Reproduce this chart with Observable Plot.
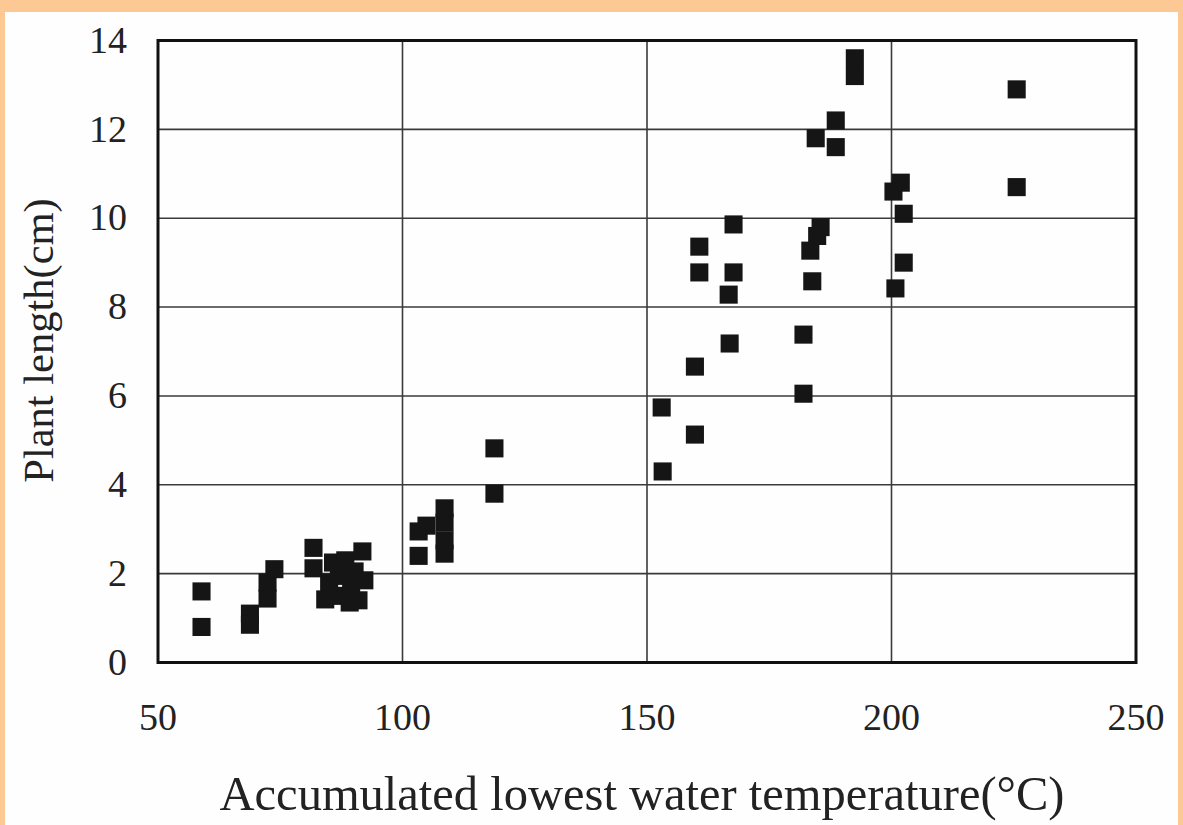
<!DOCTYPE html>
<html>
<head>
<meta charset="utf-8">
<script src="https://cdn.jsdelivr.net/npm/d3@7"></script>
<script src="https://cdn.jsdelivr.net/npm/@observablehq/plot@0.6"></script>
<style>
  html, body { margin: 0; padding: 0; background: #ffffff; }
  #wrap {
    width: 1173px; height: 813px;
    border-top: 12px solid #fcc894;
    border-left: 5px solid #fcc894;
    border-right: 5px solid #fcc894;
    background: #fefefe;
    overflow: hidden;
  }
  svg { display: block; }
</style>
</head>
<body>
<div id="wrap"></div>
<script>
// Accumulated lowest water temperature (°C)
const temperature = [
  58.9, 58.9,
  68.8, 68.8,
  72.4, 72.4, 73.8,
  81.8, 81.8, 84.2, 85.0, 85.8, 87.0, 87.5, 88.3, 89.2, 89.5, 90.2, 91.0, 91.8, 92.2,
  103.3, 103.3, 104.9, 108.6, 108.6, 108.6, 108.6,
  118.8, 118.8,
  153.0, 153.2, 159.8, 159.8, 160.7, 160.7, 167.7, 167.7, 166.7, 166.9,
  182.0, 182.0, 183.4, 183.8, 184.8, 185.5, 184.5, 188.6, 188.6, 192.5, 192.5,
  200.4, 200.8, 201.9, 202.5, 202.5,
  225.6, 225.6
];
// Plant length (cm)
const plantLength = [
  1.6, 0.8,
  1.1, 0.85,
  1.44, 1.8, 2.1,
  2.58, 2.12, 1.42, 1.8, 2.25, 1.95, 1.5, 2.3, 1.35, 1.7, 2.05, 1.4, 2.5, 1.85,
  2.4, 2.95, 3.08, 2.45, 2.75, 3.15, 3.47,
  4.82, 3.8,
  5.74, 4.3, 6.66, 5.13, 9.36, 8.78, 9.86, 8.78, 8.28, 7.18,
  7.38, 6.05, 9.27, 8.58, 9.6, 9.8, 11.8, 12.2, 11.6, 13.6, 13.2,
  10.6, 8.42, 10.8, 10.1, 9.0,
  12.9, 10.7
];
const xTicks = [50, 100, 150, 200, 250];
const yTicks = [0, 2, 4, 6, 8, 10, 12, 14];
const xLabel = "Accumulated lowest water temperature(°C)";
const yLabel = "Plant length(cm)";

const data = temperature.map((t, i) => ({t, l: plantLength[i]}));

const chart = Plot.plot({
  width: 1173,
  height: 813,
  marginLeft: 152.5,
  marginRight: 42.5,
  marginTop: 28,
  marginBottom: 163,
  style: {fontFamily: "'Liberation Serif', 'DejaVu Serif', serif", background: "transparent", color: "#222"},
  x: {domain: [50, 250], ticks: xTicks},
  y: {domain: [0, 14], ticks: yTicks},
  marks: [
    Plot.gridX(xTicks.slice(1, -1), {stroke: "#3a3a3a", strokeOpacity: 1, strokeWidth: 1.6}),
    Plot.gridY(yTicks.slice(1, -1), {stroke: "#3a3a3a", strokeOpacity: 1, strokeWidth: 1.6}),
    Plot.axisX(xTicks, {tickSize: 0, tickPadding: 41, fontSize: 38, label: null, fill: "#222"}),
    Plot.axisY(yTicks, {tickSize: 0, tickPadding: 31, fontSize: 38, label: null, fill: "#222"}),
    Plot.dot(data, {x: "t", y: "l", symbol: "square", r: 10.2, fill: "#151515", stroke: "none"}),
    Plot.frame({stroke: "#111", strokeWidth: 3}),
    Plot.text([xLabel], {frameAnchor: "bottom", textAnchor: "middle", dx: -5, dy: 132, fontSize: 48.5, lineAnchor: "middle", fill: "#222", text: d => d}),
    Plot.text([yLabel], {frameAnchor: "left", textAnchor: "middle", dx: -118.5, dy: -11, fontSize: 42.5, rotate: -90, lineAnchor: "middle", fill: "#222", text: d => d})
  ]
});
document.getElementById("wrap").appendChild(chart);
</script>
</body>
</html>
